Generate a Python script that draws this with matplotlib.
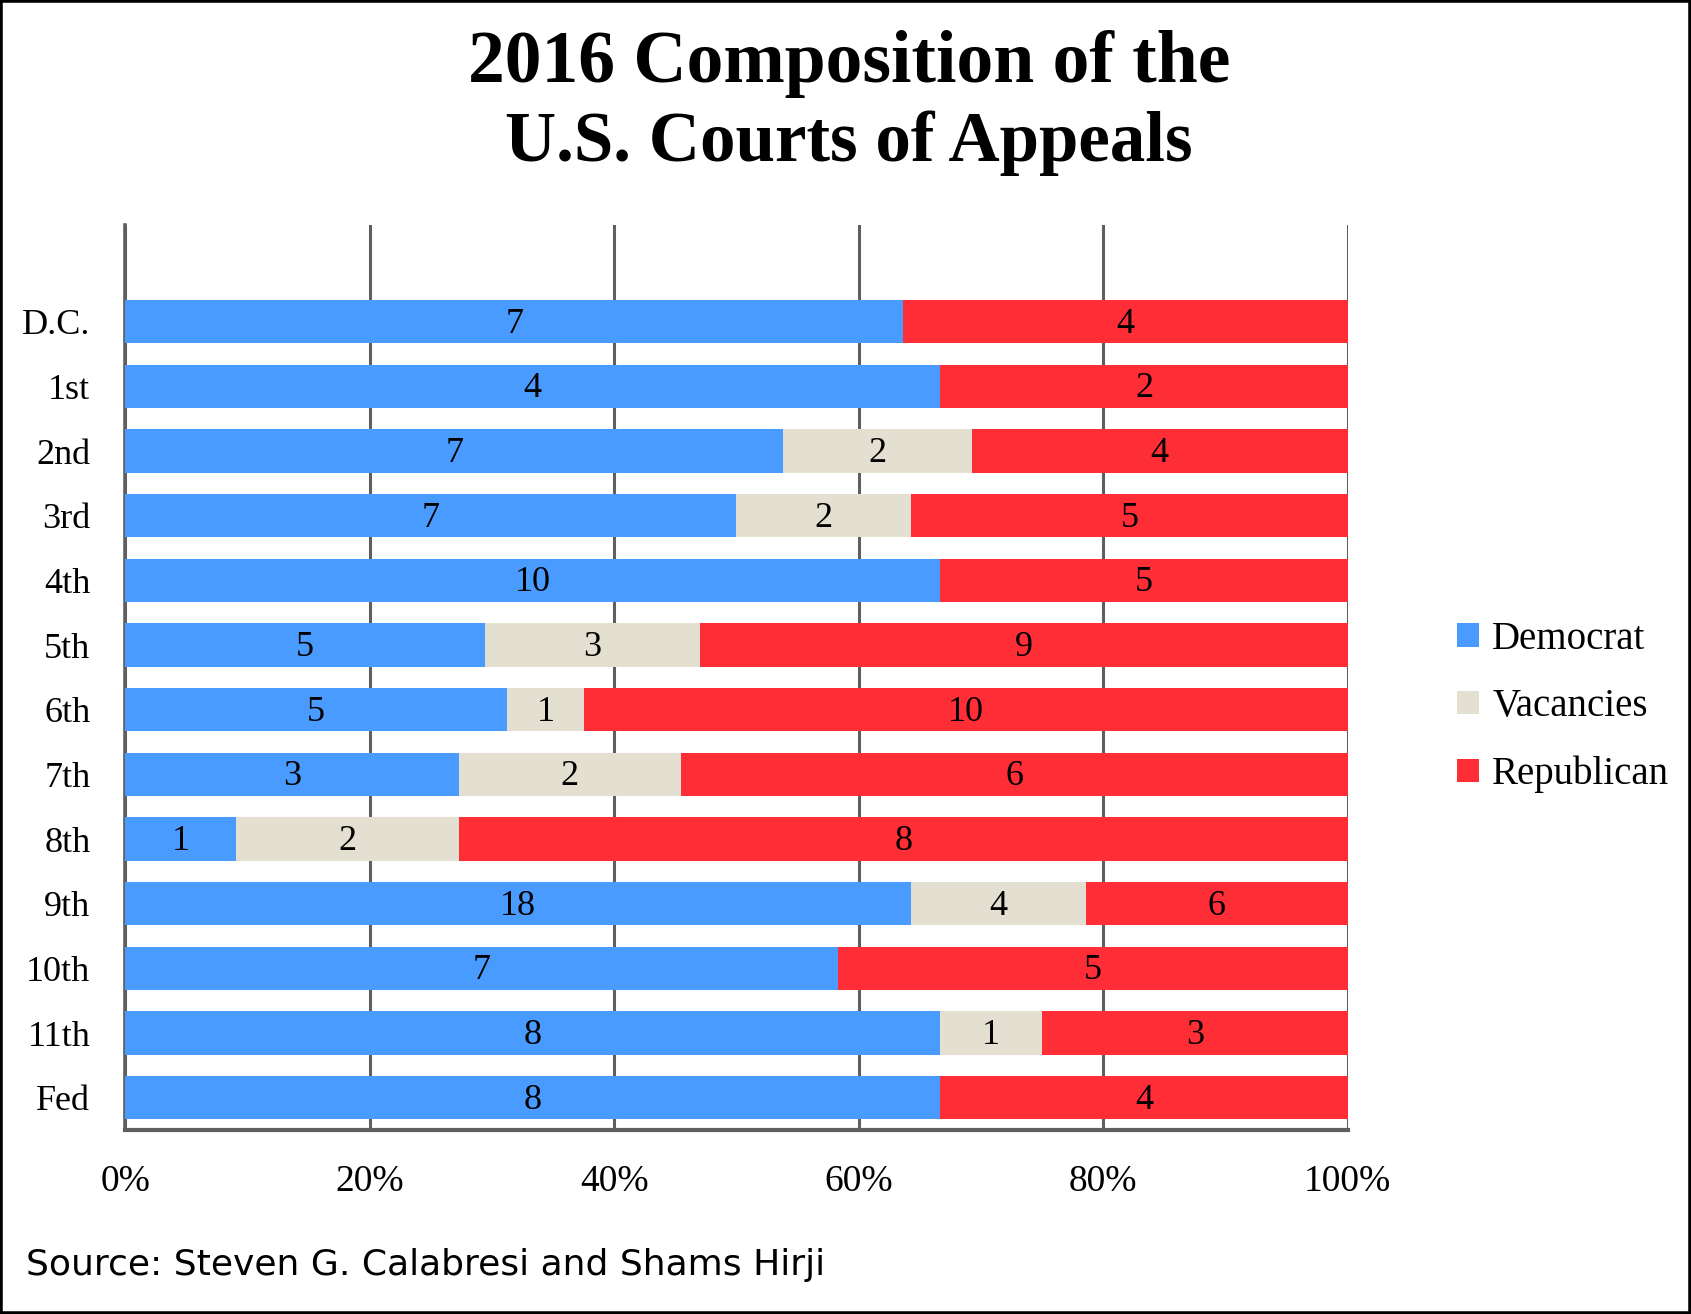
import numpy as np
import matplotlib.pyplot as plt
from matplotlib.patches import Rectangle

circuits = ["D.C.", "1st", "2nd", "3rd", "4th", "5th", "6th", "7th", "8th",
            "9th", "10th", "11th", "Fed"]
democrat = [7, 4, 7, 7, 10, 5, 5, 3, 1, 18, 7, 8, 8]
vacancies = [0, 0, 2, 2, 0, 3, 1, 2, 2, 4, 0, 1, 0]
republican = [4, 2, 4, 5, 5, 9, 10, 6, 8, 6, 5, 3, 4]
tick_labels = ["0%", "20%", "40%", "60%", "80%", "100%"]

colors = {"Democrat": "#4A9BFF", "Vacancies": "#E3E0D1", "Republican": "#FF2D36"}
grid_col = "#5F5F5F"
serif = ["Liberation Serif", "DejaVu Serif"]

fig = plt.figure(figsize=(16.91, 13.14), dpi=100)
ax = fig.add_axes([0.074, 0.140, 0.723, 0.689])

dem = np.array(democrat, dtype=float)
vac = np.array(vacancies, dtype=float)
rep = np.array(republican, dtype=float)
total = dem + vac + rep
y = np.arange(len(circuits))

left = np.zeros(len(circuits))
handles = []
for name, vals in [("Democrat", dem), ("Vacancies", vac), ("Republican", rep)]:
    share = vals / total
    bars = ax.barh(y, share, left=left, height=0.667, color=colors[name],
                   label=name, zorder=3)
    handles.append(bars)
    for i, v in enumerate(vals):
        if v > 0:
            ax.text(left[i] + share[i] / 2, y[i] + 0.04, str(int(v)), ha="center",
                    va="center", fontsize=26, family=serif, zorder=4)
    left = left + share

ax.set_xlim(0, 1)
ax.set_ylim(len(circuits) - 0.5, -1.5)
ax.set_xticks(np.linspace(0, 1, 6))
ax.set_xticklabels(tick_labels, fontsize=27, family=serif)
ax.set_yticks(y)
ax.set_yticklabels(circuits, fontsize=26, family=serif)
ax.tick_params(axis="x", length=0, pad=25)
ax.tick_params(axis="y", length=0, pad=25)
ax.xaxis.grid(True, color=grid_col, linewidth=2.2, zorder=0)
ax.set_axisbelow(True)
for s in ["top", "right"]:
    ax.spines[s].set_visible(False)
ax.spines["left"].set_color(grid_col)
ax.spines["left"].set_linewidth(2.6)
ax.spines["bottom"].set_color(grid_col)
ax.spines["bottom"].set_linewidth(3)

fig.legend(handles=handles, loc="center left", bbox_to_anchor=(0.841, 0.462),
           frameon=False, prop={"family": serif, "size": 28},
           handlelength=0.55, handleheight=0.55, handletextpad=0.35,
           labelspacing=0.78)

fig.text(0.502, 0.951, "2016 Composition of the", ha="center", va="center",
         fontsize=53, fontweight="bold", family=serif)
fig.text(0.502, 0.891, "U.S. Courts of Appeals", ha="center", va="center",
         fontsize=51, fontweight="bold", family=serif)
fig.text(0.0153, 0.037, "Source: Steven G. Calabresi and Shams Hirji",
         ha="left", va="center", fontsize=26, family="DejaVu Sans")

fig.patches.append(Rectangle((0, 0), 1, 1, transform=fig.transFigure,
                             fill=False, edgecolor="black", linewidth=4))

fig.savefig("out.png", dpi=100, facecolor="white")
